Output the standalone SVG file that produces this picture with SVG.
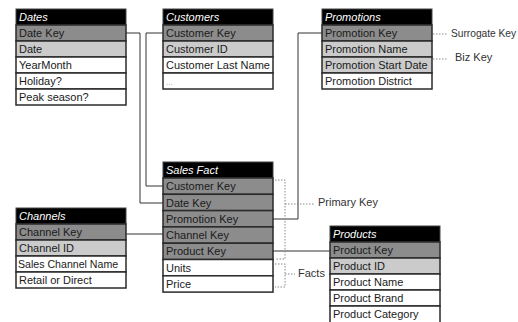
<svg xmlns="http://www.w3.org/2000/svg" width="518" height="322" viewBox="0 0 518 322">
<style>
.hd{fill:#000;stroke:#444;stroke-width:1}
.dk{fill:#8c8c8c;stroke:#2a2a2a;stroke-width:1.5}
.lt{fill:#cbcbcb;stroke:#2a2a2a;stroke-width:1.5}
.wh{fill:#fff;stroke:#2a2a2a;stroke-width:1.5}
.ht{font-family:"Liberation Sans",Arial,sans-serif;font-size:11px;font-style:italic;fill:#fff}
.t{font-family:"Liberation Sans",Arial,sans-serif;font-size:11px;fill:#1a1a1a}
.lb{font-family:"Liberation Sans",Arial,sans-serif;font-size:11px;fill:#333}
.c{fill:none;stroke:#333;stroke-width:1}
.d{fill:none;stroke:#888;stroke-width:1;stroke-dasharray:1.5,1.5}
</style>
<rect width="518" height="322" fill="#fff"/>
<g id="dates">
<rect class="hd" x="16" y="9" width="110" height="16"/><text class="ht" x="19" y="21">Dates</text>
<rect class="dk" x="16" y="25" width="110" height="16"/><text class="t" x="19" y="37">Date Key</text>
<rect class="lt" x="16" y="41" width="110" height="16"/><text class="t" x="19" y="53">Date</text>
<rect class="wh" x="16" y="57" width="110" height="16"/><text class="t" x="19" y="69">YearMonth</text>
<rect class="wh" x="16" y="73" width="110" height="16"/><text class="t" x="19" y="85">Holiday?</text>
<rect class="wh" x="16" y="89" width="110" height="16"/><text class="t" x="19" y="101">Peak season?</text>
</g>
<g id="customers">
<rect class="hd" x="163" y="9" width="110" height="16"/><text class="ht" x="166" y="21">Customers</text>
<rect class="dk" x="163" y="25" width="110" height="16"/><text class="t" x="166" y="37">Customer Key</text>
<rect class="lt" x="163" y="41" width="110" height="16"/><text class="t" x="166" y="53">Customer ID</text>
<rect class="wh" x="163" y="57" width="110" height="16"/><text class="t" x="166" y="69">Customer Last Name</text>
<rect class="wh" x="163" y="73" width="110" height="16"/><text class="t" x="166" y="85" style="fill:#999;font-size:8px">...</text>
</g>
<g id="promotions">
<rect class="hd" x="322" y="9" width="110" height="16"/><text class="ht" x="325" y="21">Promotions</text>
<rect class="dk" x="322" y="25" width="110" height="16"/><text class="t" x="325" y="37">Promotion Key</text>
<rect class="lt" x="322" y="41" width="110" height="16"/><text class="t" x="325" y="53">Promotion Name</text>
<rect class="lt" x="322" y="57" width="110" height="16"/><text class="t" x="325" y="69">Promotion Start Date</text>
<rect class="wh" x="322" y="73" width="110" height="16"/><text class="t" x="325" y="85">Promotion District</text>
</g>
<g id="salesfact">
<rect class="hd" x="163" y="162" width="110" height="16"/><text class="ht" x="166" y="174">Sales Fact</text>
<rect class="dk" x="163" y="178" width="110" height="16.3"/><text class="t" x="166" y="190">Customer Key</text>
<rect class="dk" x="163" y="194.3" width="110" height="16.3"/><text class="t" x="166" y="206.5">Date Key</text>
<rect class="dk" x="163" y="210.6" width="110" height="16.3"/><text class="t" x="166" y="222.8">Promotion Key</text>
<rect class="dk" x="163" y="226.9" width="110" height="16.3"/><text class="t" x="166" y="239">Channel Key</text>
<rect class="dk" x="163" y="243.2" width="110" height="16.3"/><text class="t" x="166" y="255.4">Product Key</text>
<rect class="wh" x="163" y="259.5" width="110" height="16.3"/><text class="t" x="166" y="271.7">Units</text>
<rect class="wh" x="163" y="275.8" width="110" height="16.3"/><text class="t" x="166" y="288">Price</text>
</g>
<g id="channels">
<rect class="hd" x="16" y="208" width="110" height="16"/><text class="ht" x="19" y="220">Channels</text>
<rect class="dk" x="16" y="224" width="110" height="16"/><text class="t" x="19" y="236">Channel Key</text>
<rect class="lt" x="16" y="240" width="110" height="16"/><text class="t" x="19" y="252">Channel ID</text>
<rect class="wh" x="16" y="256" width="110" height="16"/><text class="t" x="18" y="268" style="font-size:10.6px">Sales Channel Name</text>
<rect class="wh" x="16" y="272" width="110" height="16"/><text class="t" x="19" y="284">Retail or Direct</text>
</g>
<g id="products">
<rect class="hd" x="330" y="226" width="110" height="16"/><text class="ht" x="333" y="238">Products</text>
<rect class="dk" x="330" y="242" width="110" height="16"/><text class="t" x="333" y="254">Product Key</text>
<rect class="lt" x="330" y="258" width="110" height="16"/><text class="t" x="333" y="270">Product ID</text>
<rect class="wh" x="330" y="274" width="110" height="16"/><text class="t" x="333" y="286">Product Name</text>
<rect class="wh" x="330" y="290" width="110" height="16"/><text class="t" x="333" y="302">Product Brand</text>
<rect class="wh" x="330" y="306" width="110" height="17"/><text class="t" x="333" y="318">Product Category</text>
</g>
<g id="connectors">
<path class="c" d="M126,33 H140 V203 H163"/>
<path class="c" d="M163,33 H146 V186 H163"/>
<path class="c" d="M322,33 H298 V219 H273"/>
<path class="c" d="M126,234 H163"/>
<path class="c" d="M273,251 H330"/>
<path class="d" d="M275,180 H285 V259 H275 M285,204 H315"/>
<path class="d" d="M275,264 H285 V287 H275 M285,274 H295"/>
<path class="d" d="M433,34 H448"/>
<path class="d" d="M433,59 H448"/>
</g>
<g id="labels">
<text class="lb" x="318" y="206">Primary Key</text>
<text class="lb" x="298" y="277">Facts</text>
<text class="lb" x="451" y="37" style="font-size:10.2px">Surrogate Key</text>
<text class="lb" x="455" y="61">Biz Key</text>
</g>
</svg>
